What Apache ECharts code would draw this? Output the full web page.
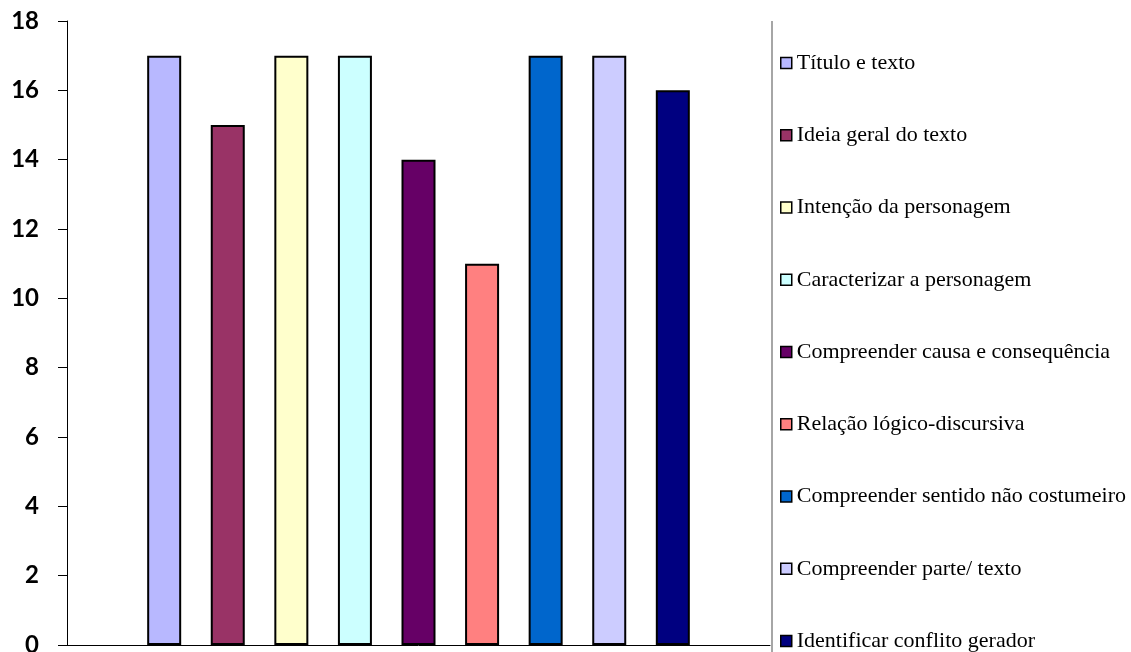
<!DOCTYPE html>
<html>
<head>
<meta charset="utf-8">
<script src="https://cdn.jsdelivr.net/npm/echarts@6/dist/echarts.min.js"></script>
<style>
  html, body { margin: 0; padding: 0; background: #fff; }
  #chart { width: 1131px; height: 652px; }
</style>
</head>
<body>
<div id="chart"></div>
<script>
// Skills assessed and the count for each
const skills = [
  'Título e texto',
  'Ideia geral do texto',
  'Intenção da personagem',
  'Caracterizar a personagem',
  'Compreender causa e consequência',
  'Relação lógico-discursiva',
  'Compreender sentido não costumeiro',
  'Compreender parte/ texto',
  'Identificar conflito gerador'
];
const counts = [17, 15, 17, 17, 14, 11, 17, 17, 16];
const colors = ['#B8B8FF', '#993366', '#FFFFCC', '#CCFFFF', '#660066', '#FF8080', '#0066CC', '#CCCCFF', '#000080'];
const yTicks = { min: 0, max: 18, interval: 2 };

const chart = echarts.init(document.getElementById('chart'), null, { renderer: 'canvas' });

const series = skills.map((name, i) => ({
  name: name,
  type: 'bar',
  data: [counts[i]],
  barWidth: 34,
  barGap: '87%',
  itemStyle: { color: colors[i], borderColor: '#000', borderWidth: 2 },
  emphasis: { disabled: true }
}));

chart.setOption({
  animation: false,
  grid: { left: 67, right: 361, top: 21, bottom: 7, containLabel: false, outerBoundsMode: 'none' },
  xAxis: {
    type: 'category',
    data: [''],
    axisLine: { show: true, lineStyle: { color: '#000', width: 1 } },
    axisTick: { show: false },
    axisLabel: { show: false }
  },
  yAxis: {
    type: 'value',
    min: yTicks.min,
    max: yTicks.max,
    interval: yTicks.interval,
    axisLine: { show: true, lineStyle: { color: '#000', width: 1 } },
    axisTick: { show: true, length: 9, lineStyle: { color: '#000' } },
    splitLine: { show: false },
    axisLabel: {
      margin: 28,
      fontFamily: 'Lato',
      fontWeight: 'bold',
      fontSize: 24,
      color: '#000'
    }
  },
  legend: {
    orient: 'vertical',
    left: 780,
    top: 52,
    height: 600,
    padding: 0,
    itemWidth: 11,
    itemHeight: 11,
    itemGap: 50.25,
    icon: 'rect',
    itemStyle: { borderColor: '#000', borderWidth: 1.5 },
    textStyle: {
      fontFamily: 'Times New Roman, Liberation Serif, serif',
      fontSize: 22,
      lineHeight: 22,
      color: '#000'
    },
    selectedMode: false,
    data: skills
  },
  graphic: [{
    type: 'line',
    shape: { x1: 772, y1: 21, x2: 772, y2: 652 },
    style: { stroke: '#A6A6A6', lineWidth: 2 },
    silent: true
  }],
  series: series
});
</script>
</body>
</html>
